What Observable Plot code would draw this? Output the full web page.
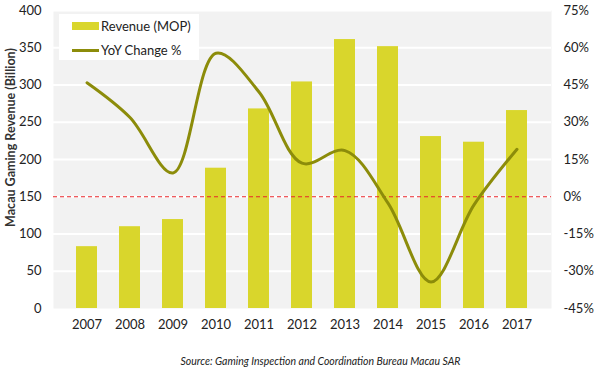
<!DOCTYPE html>
<html>
<head>
<meta charset="utf-8">
<script src="https://cdn.jsdelivr.net/npm/d3@7"></script>
<script src="https://cdn.jsdelivr.net/npm/@observablehq/plot@0.6"></script>
<style>
  html, body { margin: 0; padding: 0; background: #fff; }
  #wrap { position: relative; width: 600px; height: 375px; font-family: Lato, "Open Sans", sans-serif; }
  #legend { position: absolute; left: 59px; top: 14px; width: 140px; height: 46px; background: #fff; font-size: 13px; color: #222; }
  .row { position: absolute; left: 13px; display: flex; align-items: center; }
  .sw-bar { width: 27px; height: 8px; background: #d9d62c; }
  .sw-line { width: 27px; height: 3px; background: #8c8c0a; }
</style>
</head>
<body>
<div id="wrap"></div>
<script>
const years = ["2007","2008","2009","2010","2011","2012","2013","2014","2015","2016","2017"];
const revenue = [83.0, 109.8, 119.4, 188.3, 267.9, 304.1, 361.0, 351.5, 230.8, 223.2, 265.7];
const yoy = [45.9, 31.9, 9.6, 57.8, 42.2, 13.5, 18.6, -2.6, -34.3, -3.3, 19.1];
const leftTicks = [0, 50, 100, 150, 200, 250, 300, 350, 400];
const pctTicks = [-45, -30, -15, 0, 15, 30, 45, 60, 75];
const seriesNames = ["Revenue (MOP)", "YoY Change %"];
const sourceText = "Source: Gaming Inspection and Coordination Bureau Macau SAR";
const yTitle = "Macau Gaming Revenue (Billion)";

// map percentage onto the left (revenue) scale: -45..75 -> 0..400
const pctToLeft = p => (p + 45) / 120 * 400;
const leftToPct = v => v / 400 * 120 - 45;

const revData = years.map((y, i) => ({year: y, value: revenue[i]}));
const yoyData = years.map((y, i) => ({year: y, value: pctToLeft(yoy[i])}));

const chart = Plot.plot({
  width: 600,
  height: 375,
  marginLeft: 53,
  marginRight: 49,
  marginTop: 10,
  marginBottom: 67,
  style: {fontFamily: "Lato, 'Open Sans', sans-serif", fontSize: "13px", color: "#222", background: "#fff"},
  x: {domain: years, padding: 0.51, label: null},
  y: {domain: [0, 400], label: null},
  marks: [
    Plot.frame({fill: "#f2f2f2", stroke: null}),
    Plot.ruleY(leftTicks.slice(1), {stroke: "#fff", strokeWidth: 2}),
    Plot.barY(revData, {x: "year", y: "value", fill: "#d9d62c"}),
    Plot.ruleY([pctToLeft(0)], {stroke: "#e8262a", strokeWidth: 1, strokeDasharray: "4,3"}),
    Plot.line(yoyData, {x: "year", y: "value", stroke: "#8c8c0a", strokeWidth: 3, curve: "catmull-rom"}),
    Plot.axisY(leftTicks, {anchor: "left", tickSize: 0, tickPadding: 12, label: null, fontSize: 13}),
    Plot.axisY(pctTicks.map(pctToLeft), {anchor: "right", tickSize: 0, tickPadding: 12, label: null, tickFormat: v => Math.round(leftToPct(v)) + "%", fontSize: 13}),
    Plot.axisX({tickSize: 0, tickPadding: 11, label: null, fontSize: 13}),
    Plot.text([yTitle], {frameAnchor: "left", textAnchor: "middle", rotate: -90, dx: -43, dy: -22, fontWeight: "bold", fontSize: 12.5, fill: "#333"}),
    Plot.text([sourceText], {frameAnchor: "bottom", dy: 56, dx: 18, fontStyle: "italic", fontSize: 10.5, fill: "#222"})
  ]
});
const wrap = document.getElementById("wrap");
wrap.appendChild(chart);
const legend = document.createElement("div");
legend.id = "legend";
legend.innerHTML = `<div class="row" style="top:4px"><div class="sw-bar"></div><span style="margin-left:2px">${seriesNames[0]}</span></div>
<div class="row" style="top:28px"><div class="sw-line"></div><span style="margin-left:2px">${seriesNames[1]}</span></div>`;
wrap.appendChild(legend);
</script>
</body>
</html>
